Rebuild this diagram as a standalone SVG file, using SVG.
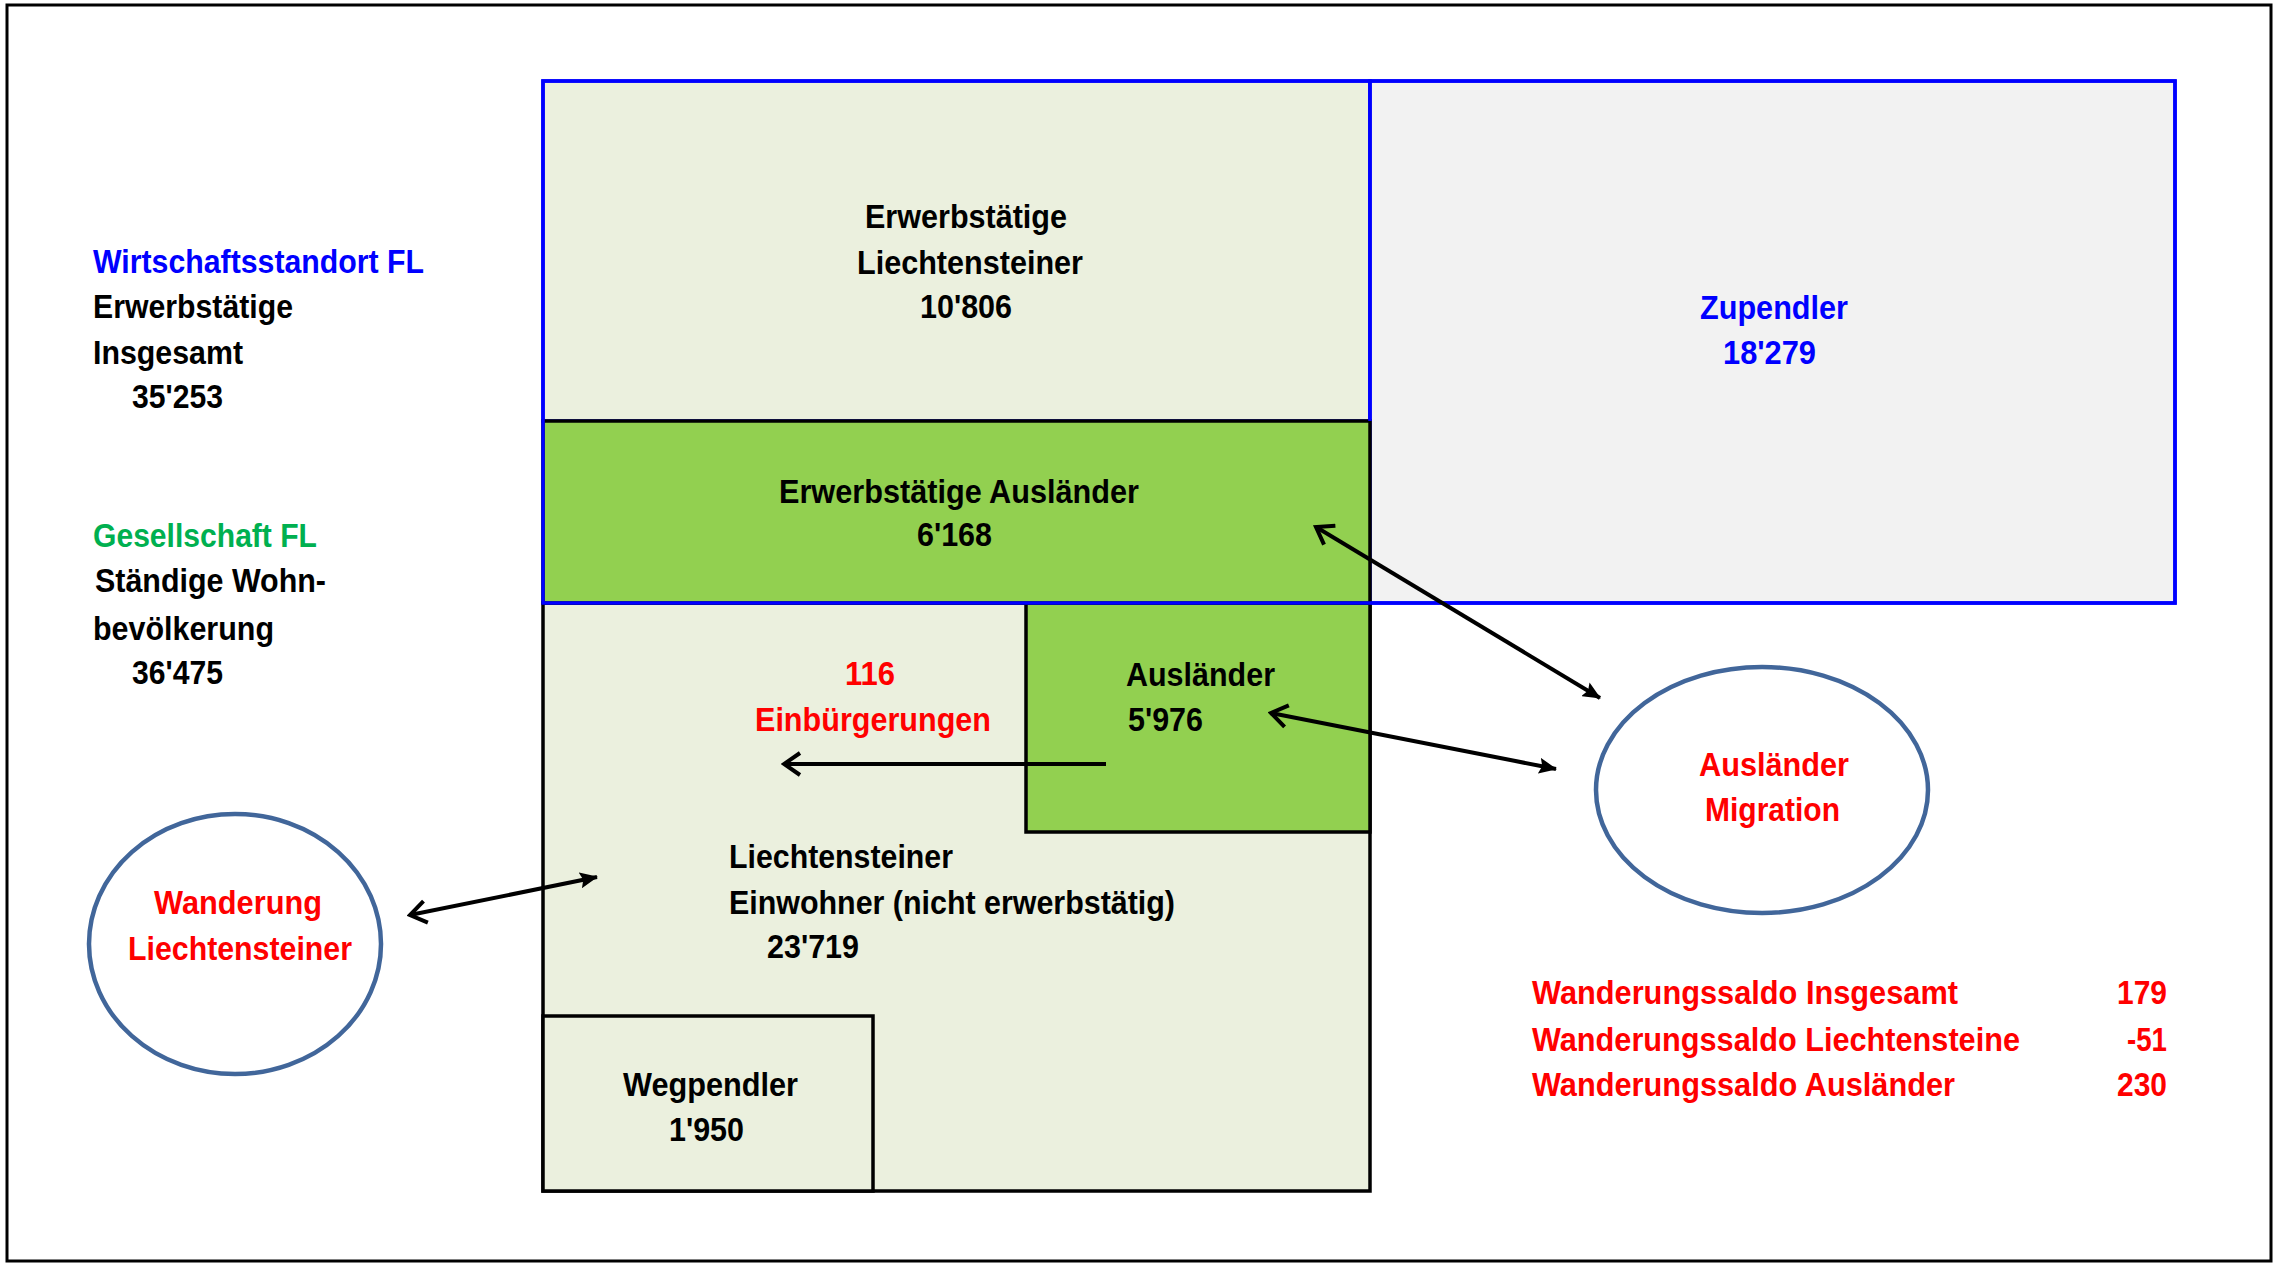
<svg xmlns="http://www.w3.org/2000/svg" width="2278" height="1265" viewBox="0 0 2278 1265">
<style>
text{font-family:"Liberation Sans",Arial,sans-serif;font-weight:bold;font-size:33px;fill:#000;}
.blue{fill:#0000FF;}
.green{fill:#00B050;}
.red{fill:#FF0000;}
.beige{fill:#EBF0DE;}
.lime{fill:#92D050;}
.bk{stroke:#000;stroke-width:3.5;}
.bl{stroke:#0000FF;stroke-width:3.5;}
.circ{fill:#FFFFFF;stroke:#41669A;stroke-width:4.5;}
.conn{stroke:#000;stroke-width:4;fill:none;}
</style>
<defs>
<marker id="open" viewBox="0 0 22 26" refX="19" refY="13" markerWidth="22" markerHeight="26" orient="auto-start-reverse" markerUnits="userSpaceOnUse"><path d="M3,2 L19,13 L3,24" fill="none" stroke="#000" stroke-width="4"/></marker>
<marker id="tri" viewBox="0 0 18 16" refX="17" refY="8" markerWidth="18" markerHeight="16" orient="auto" markerUnits="userSpaceOnUse"><path d="M0,0 L18,8 L0,16 L3,8 z" fill="#000"/></marker>
</defs>
<rect x="0" y="0" width="2278" height="1265" fill="#FFFFFF"/>
<rect x="7" y="5" width="2264" height="1256" fill="none" stroke="#000" stroke-width="3"/>

<g id="legend-left">
<text class="blue" x="93" y="273" textLength="331" lengthAdjust="spacingAndGlyphs">Wirtschaftsstandort FL</text>
<text x="93" y="318" textLength="200" lengthAdjust="spacingAndGlyphs">Erwerbstätige</text>
<text x="93" y="364" textLength="150" lengthAdjust="spacingAndGlyphs">Insgesamt</text>
<text x="132" y="408" textLength="91" lengthAdjust="spacingAndGlyphs">35'253</text>
<text class="green" x="93" y="547" textLength="224" lengthAdjust="spacingAndGlyphs">Gesellschaft FL</text>
<text x="95" y="592" textLength="231" lengthAdjust="spacingAndGlyphs">Ständige Wohn-</text>
<text x="93" y="640" textLength="181" lengthAdjust="spacingAndGlyphs">bevölkerung</text>
<text x="132" y="684" textLength="91" lengthAdjust="spacingAndGlyphs">36'475</text>
</g>

<g id="einwohner">
<rect class="beige bk" x="543" y="603" width="827" height="588"/>
<text x="729" y="868" textLength="224" lengthAdjust="spacingAndGlyphs">Liechtensteiner</text>
<text x="729" y="914" textLength="446" lengthAdjust="spacingAndGlyphs">Einwohner (nicht erwerbstätig)</text>
<text x="767" y="958" textLength="92" lengthAdjust="spacingAndGlyphs">23'719</text>
</g>

<g id="wegpendler">
<rect class="beige bk" x="543" y="1016" width="330" height="175"/>
<text x="623" y="1096" textLength="175" lengthAdjust="spacingAndGlyphs">Wegpendler</text>
<text x="669" y="1141" textLength="75" lengthAdjust="spacingAndGlyphs">1'950</text>
</g>

<g id="auslaender">
<rect class="lime bk" x="1026" y="603" width="344" height="229"/>
<text x="1126" y="686" textLength="149" lengthAdjust="spacingAndGlyphs">Ausländer</text>
<text x="1128" y="731" textLength="75" lengthAdjust="spacingAndGlyphs">5'976</text>
</g>

<g id="einbuergerungen">
<text class="red" x="845" y="685" textLength="50" lengthAdjust="spacingAndGlyphs">116</text>
<text class="red" x="755" y="731" textLength="236" lengthAdjust="spacingAndGlyphs">Einbürgerungen</text>
</g>

<g id="erw-liechtensteiner">
<rect class="beige bl" x="543" y="81" width="827" height="340"/>
<text x="865" y="228" textLength="202" lengthAdjust="spacingAndGlyphs">Erwerbstätige</text>
<text x="857" y="274" textLength="226" lengthAdjust="spacingAndGlyphs">Liechtensteiner</text>
<text x="920" y="318" textLength="92" lengthAdjust="spacingAndGlyphs">10'806</text>
</g>

<g id="zupendler">
<rect x="1370" y="81" width="805" height="522" fill="#F2F2F2" class="bl"/>
<text class="blue" x="1700" y="319" textLength="148" lengthAdjust="spacingAndGlyphs">Zupendler</text>
<text class="blue" x="1723" y="364" textLength="93" lengthAdjust="spacingAndGlyphs">18'279</text>
</g>

<g id="erw-auslaender">
<rect class="lime bk" x="543" y="421" width="827" height="182"/>
<text x="779" y="503" textLength="360" lengthAdjust="spacingAndGlyphs">Erwerbstätige Ausländer</text>
<text x="917" y="546" textLength="75" lengthAdjust="spacingAndGlyphs">6'168</text>
</g>

<g id="frame-blue">
<path d="M543,421 L543,81 L2175,81 L2175,603 L543,603 Z" fill="none" class="bl"/>
<line x1="1370" y1="81" x2="1370" y2="421" class="bl"/>
</g>

<g id="migration">
<ellipse class="circ" cx="1762" cy="790" rx="166" ry="123"/>
<text class="red" x="1699" y="776" textLength="150" lengthAdjust="spacingAndGlyphs">Ausländer</text>
<text class="red" x="1705" y="821" textLength="135" lengthAdjust="spacingAndGlyphs">Migration</text>
</g>

<g id="wanderung">
<ellipse class="circ" cx="235" cy="944" rx="146" ry="130"/>
<text class="red" x="154" y="914" textLength="168" lengthAdjust="spacingAndGlyphs">Wanderung</text>
<text class="red" x="128" y="960" textLength="224" lengthAdjust="spacingAndGlyphs">Liechtensteiner</text>
</g>

<g id="saldo">
<text class="red" x="1532" y="1004" textLength="426" lengthAdjust="spacingAndGlyphs">Wanderungssaldo Insgesamt</text>
<text class="red" x="1532" y="1051" textLength="488" lengthAdjust="spacingAndGlyphs">Wanderungssaldo Liechtensteine</text>
<text class="red" x="1532" y="1096" textLength="423" lengthAdjust="spacingAndGlyphs">Wanderungssaldo Ausländer</text>
<text class="red" x="2117" y="1004" textLength="50" lengthAdjust="spacingAndGlyphs">179</text>
<text class="red" x="2127" y="1051" textLength="40" lengthAdjust="spacingAndGlyphs">-51</text>
<text class="red" x="2117" y="1096" textLength="50" lengthAdjust="spacingAndGlyphs">230</text>
</g>

<g id="connectors">
<line class="conn" x1="1316" y1="527" x2="1600" y2="698" marker-start="url(#open)" marker-end="url(#tri)"/>
<line class="conn" x1="1271" y1="713" x2="1556" y2="769" marker-start="url(#open)" marker-end="url(#tri)"/>
<line class="conn" x1="410" y1="915" x2="597" y2="877" marker-start="url(#open)" marker-end="url(#tri)"/>
<line class="conn" x1="1106" y1="764" x2="784" y2="764" marker-end="url(#open)"/>
</g>
</svg>
